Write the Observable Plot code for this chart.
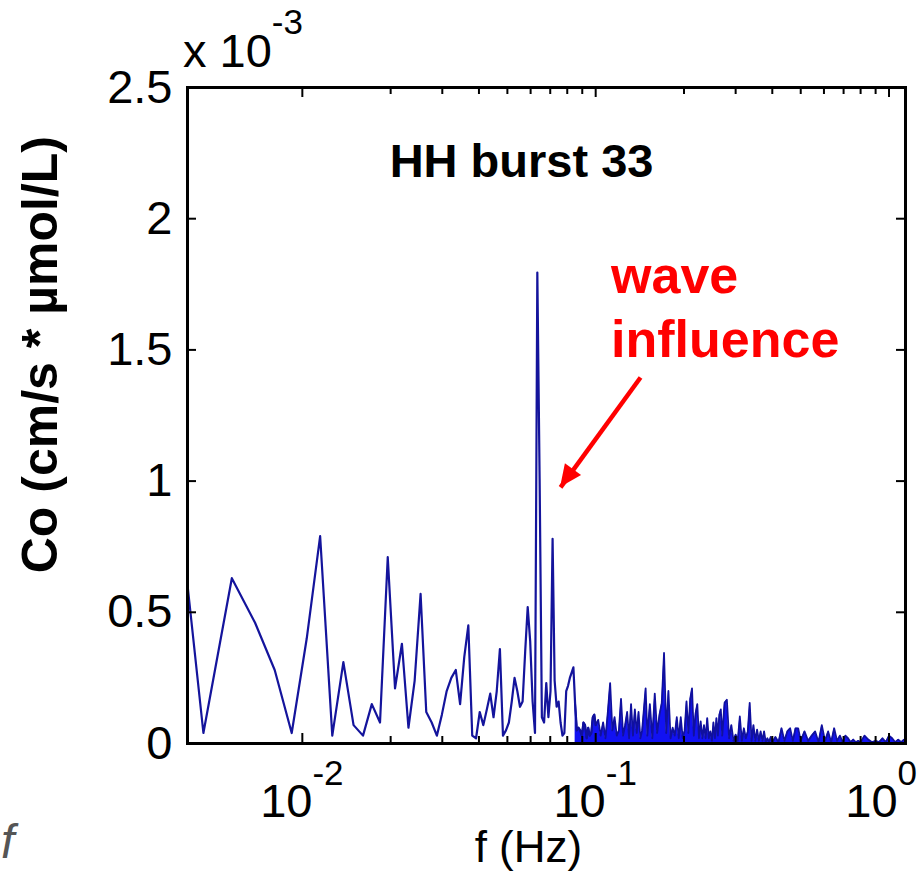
<!DOCTYPE html>
<html>
<head>
<meta charset="utf-8">
<script src="https://cdn.jsdelivr.net/npm/d3@7"></script>
<script src="https://cdn.jsdelivr.net/npm/@observablehq/plot@0.6"></script>
<style>
  html, body { margin: 0; padding: 0; background: #fff; }
  #chart svg { display: block; }
</style>
</head>
<body>
<div id="chart"></div>
<script>
// ---------------- DATA ----------------
// frequency of each vertex of the co-spectrum line (Hz)
const freqHz = [
  0.00345, 0.0046, 0.00575, 0.0069, 0.00805, 0.0092, 0.01035, 0.0115, 0.01265, 0.0138,
  0.01495, 0.0161, 0.01725, 0.0184, 0.01955, 0.0207, 0.02185, 0.023, 0.02415, 0.0253,
  0.02645, 0.0276, 0.02875, 0.0299, 0.03105, 0.0322, 0.03335, 0.0345, 0.03565, 0.0368,
  0.03795, 0.0391, 0.04025, 0.0414, 0.04255, 0.0437, 0.04485, 0.046, 0.04715, 0.0483,
  0.04945, 0.0506, 0.05175, 0.0529, 0.05405, 0.0552, 0.05635, 0.0575, 0.05865, 0.0598,
  0.06095, 0.0621, 0.06325, 0.0644, 0.06555, 0.0667, 0.06785, 0.069, 0.07015, 0.0713,
  0.07245, 0.0736, 0.07475, 0.0759, 0.07705, 0.0782, 0.07935, 0.0805, 0.08165, 0.0828,
  0.08395, 0.0851, 0.08625, 0.0874, 0.08855, 0.0897, 0.09085, 0.092, 0.09315, 0.0943,
  0.09545, 0.0966, 0.09775, 0.0989,
  0.100, 0.102, 0.104, 0.106, 0.108, 0.110, 0.112, 0.114, 0.116, 0.118,
  0.120, 0.122, 0.124, 0.126, 0.128, 0.130, 0.132, 0.134, 0.136, 0.138,
  0.140, 0.142, 0.144, 0.146, 0.148, 0.150, 0.153, 0.156, 0.159, 0.162,
  0.165, 0.168, 0.171, 0.174, 0.177, 0.180, 0.183, 0.186, 0.189, 0.192,
  0.195, 0.198, 0.201, 0.204, 0.207, 0.210, 0.213, 0.216, 0.219, 0.222,
  0.225, 0.228, 0.231, 0.234, 0.237, 0.240, 0.243, 0.246, 0.249, 0.252,
  0.255, 0.258, 0.261, 0.264, 0.267, 0.270, 0.275, 0.280, 0.285, 0.290,
  0.295, 0.300, 0.305, 0.310, 0.315, 0.320, 0.325, 0.330, 0.335, 0.340,
  0.345, 0.350, 0.355, 0.360, 0.365, 0.370, 0.375, 0.380, 0.385, 0.390,
  0.395, 0.400, 0.410, 0.420, 0.430, 0.440, 0.450, 0.460, 0.470, 0.480,
  0.490, 0.500, 0.515, 0.530, 0.545, 0.560, 0.575, 0.590, 0.605, 0.620,
  0.635, 0.650, 0.665, 0.680, 0.695, 0.710, 0.725, 0.740, 0.755, 0.770,
  0.785, 0.800, 0.825, 0.850, 0.875, 0.900, 0.925, 0.950, 0.975, 1.000,
  1.025, 1.050, 1.075, 1.100, 1.125, 1.150
];
// co-spectrum value at each vertex, in units of 1e-3 (cm/s * µmol/L)
const coE3 = [
  1.34, 0.04, 0.63, 0.46, 0.28, 0.04, 0.40, 0.79, 0.03, 0.31,
  0.07, 0.03, 0.15, 0.08, 0.71, 0.21, 0.38, 0.06, 0.24, 0.57,
  0.12, 0.08, 0.03, 0.11, 0.20, 0.25, 0.28, 0.15, 0.33, 0.45,
  0.03, 0.02, 0.12, 0.07, 0.13, 0.19, 0.10, 0.20, 0.36, 0.03,
  0.05, 0.08, 0.16, 0.25, 0.20, 0.14, 0.16, 0.35, 0.52, 0.39,
  0.16, 0.04, 1.795, 1.01, 0.10, 0.08, 0.23, 0.10, 0.20, 0.78,
  0.24, 0.14, 0.16, 0.08, 0.03, 0.04, 0.20, 0.22, 0.25, 0.27,
  0.29, 0.15, 0.05, 0.06, 0.05, 0.03, 0.08, 0.07, 0.02, 0.06,
  0.03, 0.04, 0.10, 0.11,
  0.07, 0.09, 0.03, 0.08, 0.02, 0.12, 0.23, 0.05, 0.10, 0.03,
  0.05, 0.17, 0.03, 0.07, 0.12, 0.02, 0.15, 0.03, 0.13, 0.04,
  0.12, 0.02, 0.05, 0.13, 0.21, 0.03, 0.15, 0.02, 0.19, 0.04,
  0.11, 0.155, 0.345, 0.04, 0.20, 0.02, 0.06, 0.03, 0.10, 0.02,
  0.10, 0.02, 0.05, 0.16, 0.04, 0.17, 0.21, 0.03, 0.115, 0.15,
  0.02, 0.084, 0.02, 0.07, 0.02, 0.097, 0.02, 0.046, 0.01, 0.08,
  0.02, 0.097, 0.03, 0.11, 0.13, 0.03, 0.155, 0.167, 0.02, 0.07,
  0.01, 0.034, 0.01, 0.103, 0.01, 0.058, 0.02, 0.046, 0.155, 0.01,
  0.07, 0.01, 0.053, 0.01, 0.046, 0.01, 0.046, 0.005, 0.02, 0.005,
  0.025, 0.005, 0.025, 0.005, 0.058, 0.01, 0.046, 0.058, 0.01, 0.058,
  0.058, 0.01, 0.046, 0.01, 0.03, 0.046, 0.005, 0.07, 0.01, 0.046,
  0.005, 0.058, 0.01, 0.03, 0.005, 0.03, 0.02, 0.005, 0.015, 0.005,
  0.01, 0.005, 0.03, 0.015, 0.005, 0.01, 0.005, 0.02, 0.005, 0.03,
  0.02, 0.005, 0.015, 0.005, 0.015, 0.01
];

// axes
const xDomain = [0.00406, 1.138];
const yDomain = [0, 2.5];
const yTicks = [0, 0.5, 1, 1.5, 2, 2.5];
const xMajor = [0.01, 0.1, 1];
const xMajorExponent = ["-2", "-1", "0"];
const xMinor = [0.02, 0.03, 0.04, 0.05, 0.06, 0.07, 0.08, 0.09,
                0.2, 0.3, 0.4, 0.5, 0.6, 0.7, 0.8, 0.9];
const yMultiplierBase = "x 10";
const yMultiplierExponent = "-3";

// texts
const titleText = "HH burst 33";
const noteLines = ["wave", "influence"];
const yLabel = "Co (cm/s * \u00b5mol/L)";
const xLabel = "f (Hz)";

// annotation anchors (in data units)
const titleAt = {f: 0.0561, v: 2.157};
const noteAt = {f: 0.1133, v: 1.715};
const arrowSpec = [{f1: 0.1422, v1: 1.395, f2: 0.0759, v2: 0.976}];

// ---------------- CHART ----------------
const W = 918, H = 877;
const mL = 187, mR = 13, mT = 87, mB = 134;
const frameW = W - mL - mR, frameH = H - mT - mB;
const FONT = "'Liberation Sans', Arial, Helvetica, sans-serif";

const series = freqHz.map((f, i) => ({f, v: coE3[i]}));
const lowPart = series.filter(d => d.f <= 0.1);
const densePart = series.filter(d => d.f >= 0.0851);

const chart = Plot.plot({
  width: W, height: H,
  marginLeft: mL, marginRight: mR, marginTop: mT, marginBottom: mB,
  style: {fontFamily: FONT, background: "#ffffff", color: "#000000", overflow: "visible"},
  x: {type: "log", domain: xDomain, axis: null},
  y: {domain: yDomain},
  marks: [
    // the dense high-frequency part of the spectrum reads as a solid blue band
    Plot.areaY(densePart, {x: "f", y: "v", fill: "#1212f2", clip: true}),
    Plot.line(lowPart, {x: "f", y: "v", stroke: "#14149c", strokeWidth: 2.2, clip: true}),
    Plot.line(densePart, {x: "f", y: "v", stroke: "#10109e", strokeWidth: 1.8, clip: true}),
    // inward ticks (MATLAB style)
    Plot.tickX(xMajor, {x: d => d, insetTop: frameH - 10, stroke: "#000", strokeWidth: 2}),
    Plot.tickX(xMajor, {x: d => d, insetBottom: frameH - 10, stroke: "#000", strokeWidth: 2}),
    Plot.tickX(xMinor, {x: d => d, insetTop: frameH - 7, stroke: "#000", strokeWidth: 2}),
    Plot.tickX(xMinor, {x: d => d, insetBottom: frameH - 7, stroke: "#000", strokeWidth: 2}),
    Plot.tickY(yTicks, {y: d => d, insetRight: frameW - 9, stroke: "#000", strokeWidth: 2}),
    Plot.tickY(yTicks, {y: d => d, insetLeft: frameW - 9, stroke: "#000", strokeWidth: 2}),
    Plot.frame({stroke: "#000", strokeWidth: 3}),
    Plot.axisY(yTicks, {anchor: "left", tickSize: 0, tickPadding: 15, fontSize: 47,
      label: null, tickFormat: d => String(d)}),
    // arrow shaft (head drawn below as a filled triangle)
    Plot.link(arrowSpec, {x1: "f1", y1: "v1", x2: "f2", y2: "v2",
      stroke: "#ff0000", strokeWidth: 4.5})
  ]
});

document.getElementById("chart").appendChild(chart);

// positions placed through the plot's own scales
const xs = chart.scale("x"), ys = chart.scale("y");
const fx = xs.apply ? (v => xs.apply(v)) : d3.scaleLog(xs.domain, xs.range);
const fy = ys.apply ? (v => ys.apply(v)) : d3.scaleLinear(ys.domain, ys.range);
const svg = d3.select(chart);
const g = svg.append("g").attr("font-family", FONT).attr("fill", "#000")
  .attr("text-anchor", "start");

// filled arrow head at the arrow's tip
{
  const a = arrowSpec[0];
  const x1 = fx(a.f1), y1 = fy(a.v1), x2 = fx(a.f2), y2 = fy(a.v2);
  const len = Math.hypot(x2 - x1, y2 - y1);
  const ux = (x2 - x1) / len, uy = (y2 - y1) / len;
  const hl = 22, hw = 10;
  const bx = x2 - ux * hl, by = y2 - uy * hl;
  const pts = [[x2, y2], [bx - uy * hw, by + ux * hw], [bx + uy * hw, by - ux * hw]];
  g.append("polygon").attr("points", pts.map(p => p.join(",")).join(" "))
    .attr("fill", "#ff0000");
}

// x tick labels with superscript exponents
const xBase = fy(0) + 74;
xMajor.forEach((v, i) => {
  const t = g.append("text")
    .attr("x", fx(v)).attr("y", xBase)
    .attr("text-anchor", "middle").attr("font-size", 47);
  t.append("tspan").text("10");
  t.append("tspan").attr("dy", -32).attr("font-size", 35).text(xMajorExponent[i]);
  // keep the label inside the picture, as in the reference
  const bb = t.node().getBBox();
  const over = bb.x + bb.width - (W - 1);
  if (over > 0) t.attr("x", fx(v) - over);
});

// y multiplier "x 10^-3"
{
  const t = g.append("text").attr("x", fx(xDomain[0]) - 4).attr("y", fy(2.5) - 20)
    .attr("text-anchor", "start").attr("font-size", 47);
  t.append("tspan").text(yMultiplierBase);
  t.append("tspan").attr("dy", -33).attr("font-size", 35).text(yMultiplierExponent);
}

// axis titles
g.append("text")
  .attr("transform", `translate(57, ${fy(1.48)}) rotate(-90)`)
  .attr("text-anchor", "middle").attr("font-size", 50).attr("font-weight", "bold")
  .text(yLabel);
g.append("text")
  .attr("x", fx(0.0592)).attr("y", fy(0) + 119)
  .attr("text-anchor", "middle").attr("font-size", 44)
  .text(xLabel);

// stray italic "f" at the lower-left corner of the reference
g.append("text").attr("x", 1).attr("y", 858).attr("text-anchor", "start")
  .attr("font-size", 48).attr("font-style", "italic").attr("fill", "#555")
  .text("f");

// panel title
g.append("text")
  .attr("x", fx(titleAt.f)).attr("y", fy(titleAt.v))
  .attr("text-anchor", "middle").attr("font-size", 47).attr("font-weight", "bold")
  .text(titleText);

// annotation
{
  const t = g.append("text")
    .attr("x", fx(noteAt.f)).attr("y", fy(noteAt.v)).attr("text-anchor", "start")
    .attr("font-size", 52).attr("font-weight", "bold").attr("fill", "#ff0000");
  noteLines.forEach((s, i) => {
    t.append("tspan").attr("x", fx(noteAt.f)).attr("dy", i === 0 ? 0 : 64).text(s);
  });
}
</script>
</body>
</html>
